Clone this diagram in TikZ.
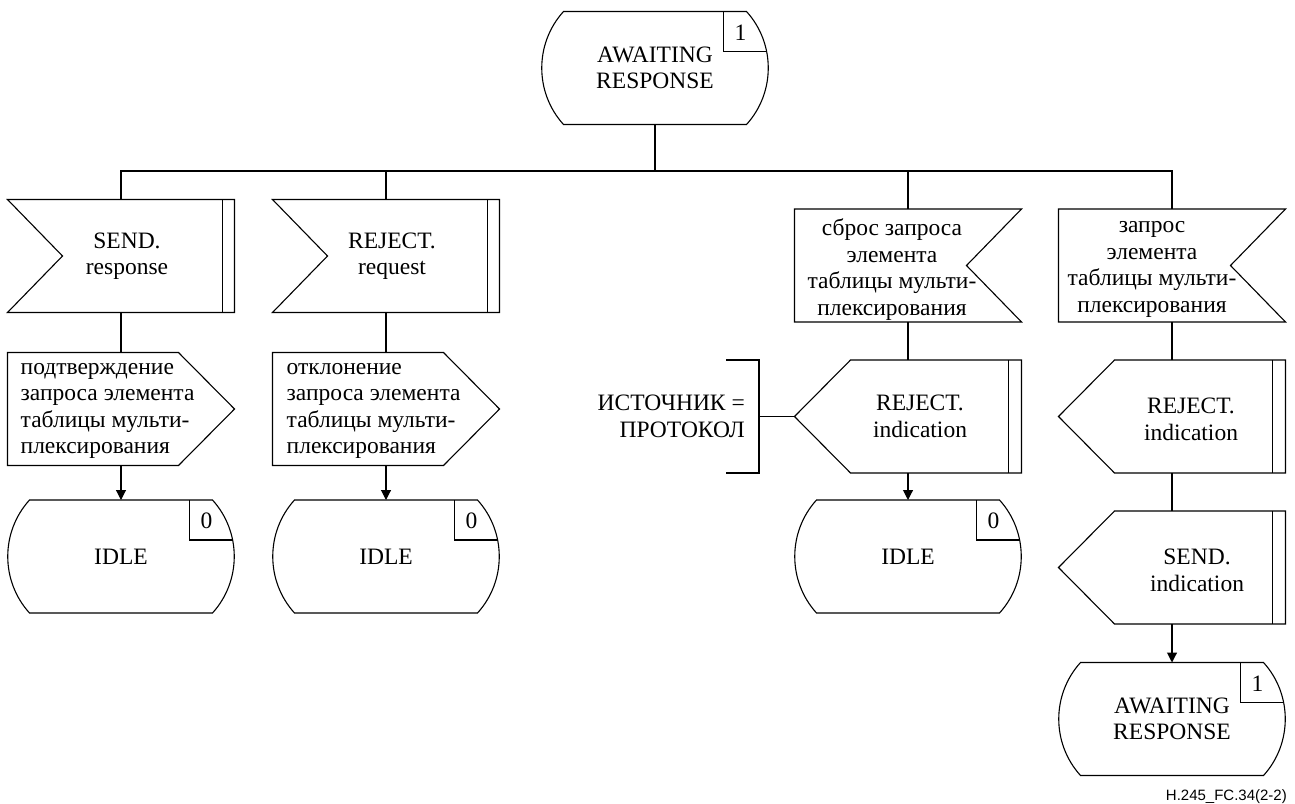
\documentclass[tikz,border=0pt]{standalone}
\usepackage{fontspec}
\setmainfont{Liberation Serif}
\newfontfamily\labelfont{Liberation Sans}
\usetikzlibrary{arrows.meta, calc, positioning}
\newcommand{\sdlfont}{\fontsize{23.5}{26.5}\selectfont}
% SDL symbols, drawn round an empty frame node
\newcommand{\sdlstate}[4]{%
  \node[statebox] (#1) at #2 {#4};
  \draw[sdl] ($(#1.north west)+(22,0)$) -- ($(#1.north east)+(-22,0)$)
    .. controls +(29,32) and +(29,-32) .. ($(#1.south east)+(-22,0)$)
    -- ($(#1.south west)+(22,0)$)
    .. controls +(-29,-32) and +(-29,32) .. ($(#1.north west)+(22,0)$) -- cycle;
  \draw[sdl] ($(#1.north east)+(-45,0)$) -- ($(#1.north east)+(-45,40)$)
    -- ($(#1.north east)+(-1.6,40)$);
  \node[numtext] (#1-num) at ($(#1.north east)+(-28,21)$) {#3};
}
\newcommand{\sdlinput}[2]{%
  \node[frame] (#1) at #2 {};
  \draw[sdl] (#1.north west) -- (#1.north east) -- (#1.south east)
    -- (#1.south west) -- ($(#1.west)+(55,0)$) -- cycle;
  \draw[sdl] ($(#1.north east)+(-12,0)$) -- ($(#1.south east)+(-12,0)$);
}
\newcommand{\sdlinputr}[2]{%
  \node[frame] (#1) at #2 {};
  \draw[sdl] (#1.north west) -- (#1.north east) -- ($(#1.east)+(-55,0)$)
    -- (#1.south east) -- (#1.south west) -- cycle;
}
\newcommand{\sdloutput}[2]{%
  \node[frame] (#1) at #2 {};
  \draw[sdl] (#1.north west) -- ($(#1.north east)+(-56,0)$) -- (#1.east)
    -- ($(#1.south east)+(-56,0)$) -- (#1.south west) -- cycle;
}
\newcommand{\sdloutputl}[2]{%
  \node[frame] (#1) at #2 {};
  \draw[sdl] ($(#1.north west)+(56,0)$) -- (#1.north east) -- (#1.south east)
    -- ($(#1.south west)+(56,0)$) -- (#1.west) -- cycle;
  \draw[sdl] ($(#1.north east)+(-13,0)$) -- ($(#1.south east)+(-13,0)$);
}
\begin{document}
\begin{tikzpicture}[x=1pt, y=-1pt,
    sdl/.style={line width=1.1pt},
    frame/.style={minimum width=227pt, minimum height=113pt,
      inner sep=0pt, outer sep=0pt},
    statebox/.style={frame, align=center, font=\sdlfont},
    sigtext/.style={align=center, font=\sdlfont, inner sep=0pt},
    numtext/.style={font=\sdlfont, inner sep=0pt},
    arr/.style={sdl, -{Triangle[length=10pt, width=10pt]}}
  ]
  \useasboundingbox (0,0) rectangle (1295,803);

  \sdlstate{wait}{(655,68)}{1}{AWAITING\\RESPONSE}

  % column 1
  \sdlinput{send}{(121,256)}
  \node[sigtext] (send-t) at ($(send)+(6,0)$) {SEND.\\response};
  \sdloutput{conf}{(121,409)}
  \node[sigtext, align=left, anchor=west] (conf-t) at ($(conf.west)+(13,2)$)
    {подтверждение\\запроса элемента\\таблицы мульти-\\плексирования};
  \sdlstate{idle1}{(121,556.5)}{0}{IDLE}

  % column 2
  \sdlinput{rejreq}{(386,256)}
  \node[sigtext] (rejreq-t) at ($(rejreq)+(6,0)$) {REJECT.\\request};
  \sdloutput{rej}{(386,409)}
  \node[sigtext, align=left, anchor=west] (rej-t) at ($(rej.west)+(14,2)$)
    {отклонение\\запроса элемента\\таблицы мульти-\\плексирования};
  \sdlstate{idle2}{(386,556.5)}{0}{IDLE}

  % column 3
  \sdlinputr{mrel}{(908,265.5)}
  \node[sigtext] (mrel-t) at ($(mrel)+(-16,4)$)
    {сброс запроса\\элемента\\таблицы мульти-\\плексирования};
  \sdloutputl{rejind}{(908,416.5)}
  \node[sigtext] (rejind-t) at ($(rejind)+(12,0)$) {REJECT.\\indication};
  \sdlstate{idle3}{(908,556.5)}{0}{IDLE}
  \node[sigtext, align=right, anchor=east] (src) at (745,416.5)
    {ИСТОЧНИК =\\ПРОТОКОЛ};
  \coordinate (brk) at (759,416.5);
  \draw[sdl] ($(brk)+(-33,-56.5)$) -- ($(brk)+(0,-56.5)$)
    -- ($(brk)+(0,56.5)$) -- ($(brk)+(-33,56.5)$);

  % column 4
  \sdlinputr{mreq}{(1172,265.5)}
  \node[sigtext] (mreq-t) at ($(mreq)+(-20,4)$)
    {запрос\\элемента\\таблицы мульти-\\плексирования};
  \sdloutputl{rejind2}{(1172,416.5)}
  \node[sigtext] (rejind2-t) at ($(rejind2)+(19,3)$) {REJECT.\\indication};
  \sdloutputl{sendind}{(1172,567.5)}
  \node[sigtext] (sendind-t) at ($(sendind)+(25,3)$) {SEND.\\indication};
  \sdlstate{wait2}{(1172,719)}{1}{AWAITING\\RESPONSE}

  % connectors
  \coordinate (bus) at (655,171);
  \draw[sdl] (wait.south) -- (bus);
  \draw[sdl] (send.north) |- (bus) -| (mreq.north);
  \draw[sdl] (rejreq.north) -- (rejreq.north |- bus);
  \draw[sdl] (mrel.north) -- (mrel.north |- bus);
  \draw[sdl] (send.south) -- (conf.north);
  \draw[sdl] (rejreq.south) -- (rej.north);
  \draw[sdl] (mrel.south) -- (rejind.north);
  \draw[sdl] (mreq.south) -- (rejind2.north);
  \draw[sdl] (rejind2.south) -- (sendind.north);
  \draw[sdl] (brk) -- (rejind.west);
  \draw[arr] (conf.south) -- (idle1.north);
  \draw[arr] (rej.south) -- (idle2.north);
  \draw[arr] (rejind.south) -- (idle3.north);
  \draw[arr] (sendind.south) -- (wait2.north);

  \node[font=\labelfont\fontsize{15}{18}\selectfont, anchor=east, inner sep=0pt]
    (figref) at (1287,797) {H.245\_FC.34(2-2)};
\end{tikzpicture}
\end{document}
